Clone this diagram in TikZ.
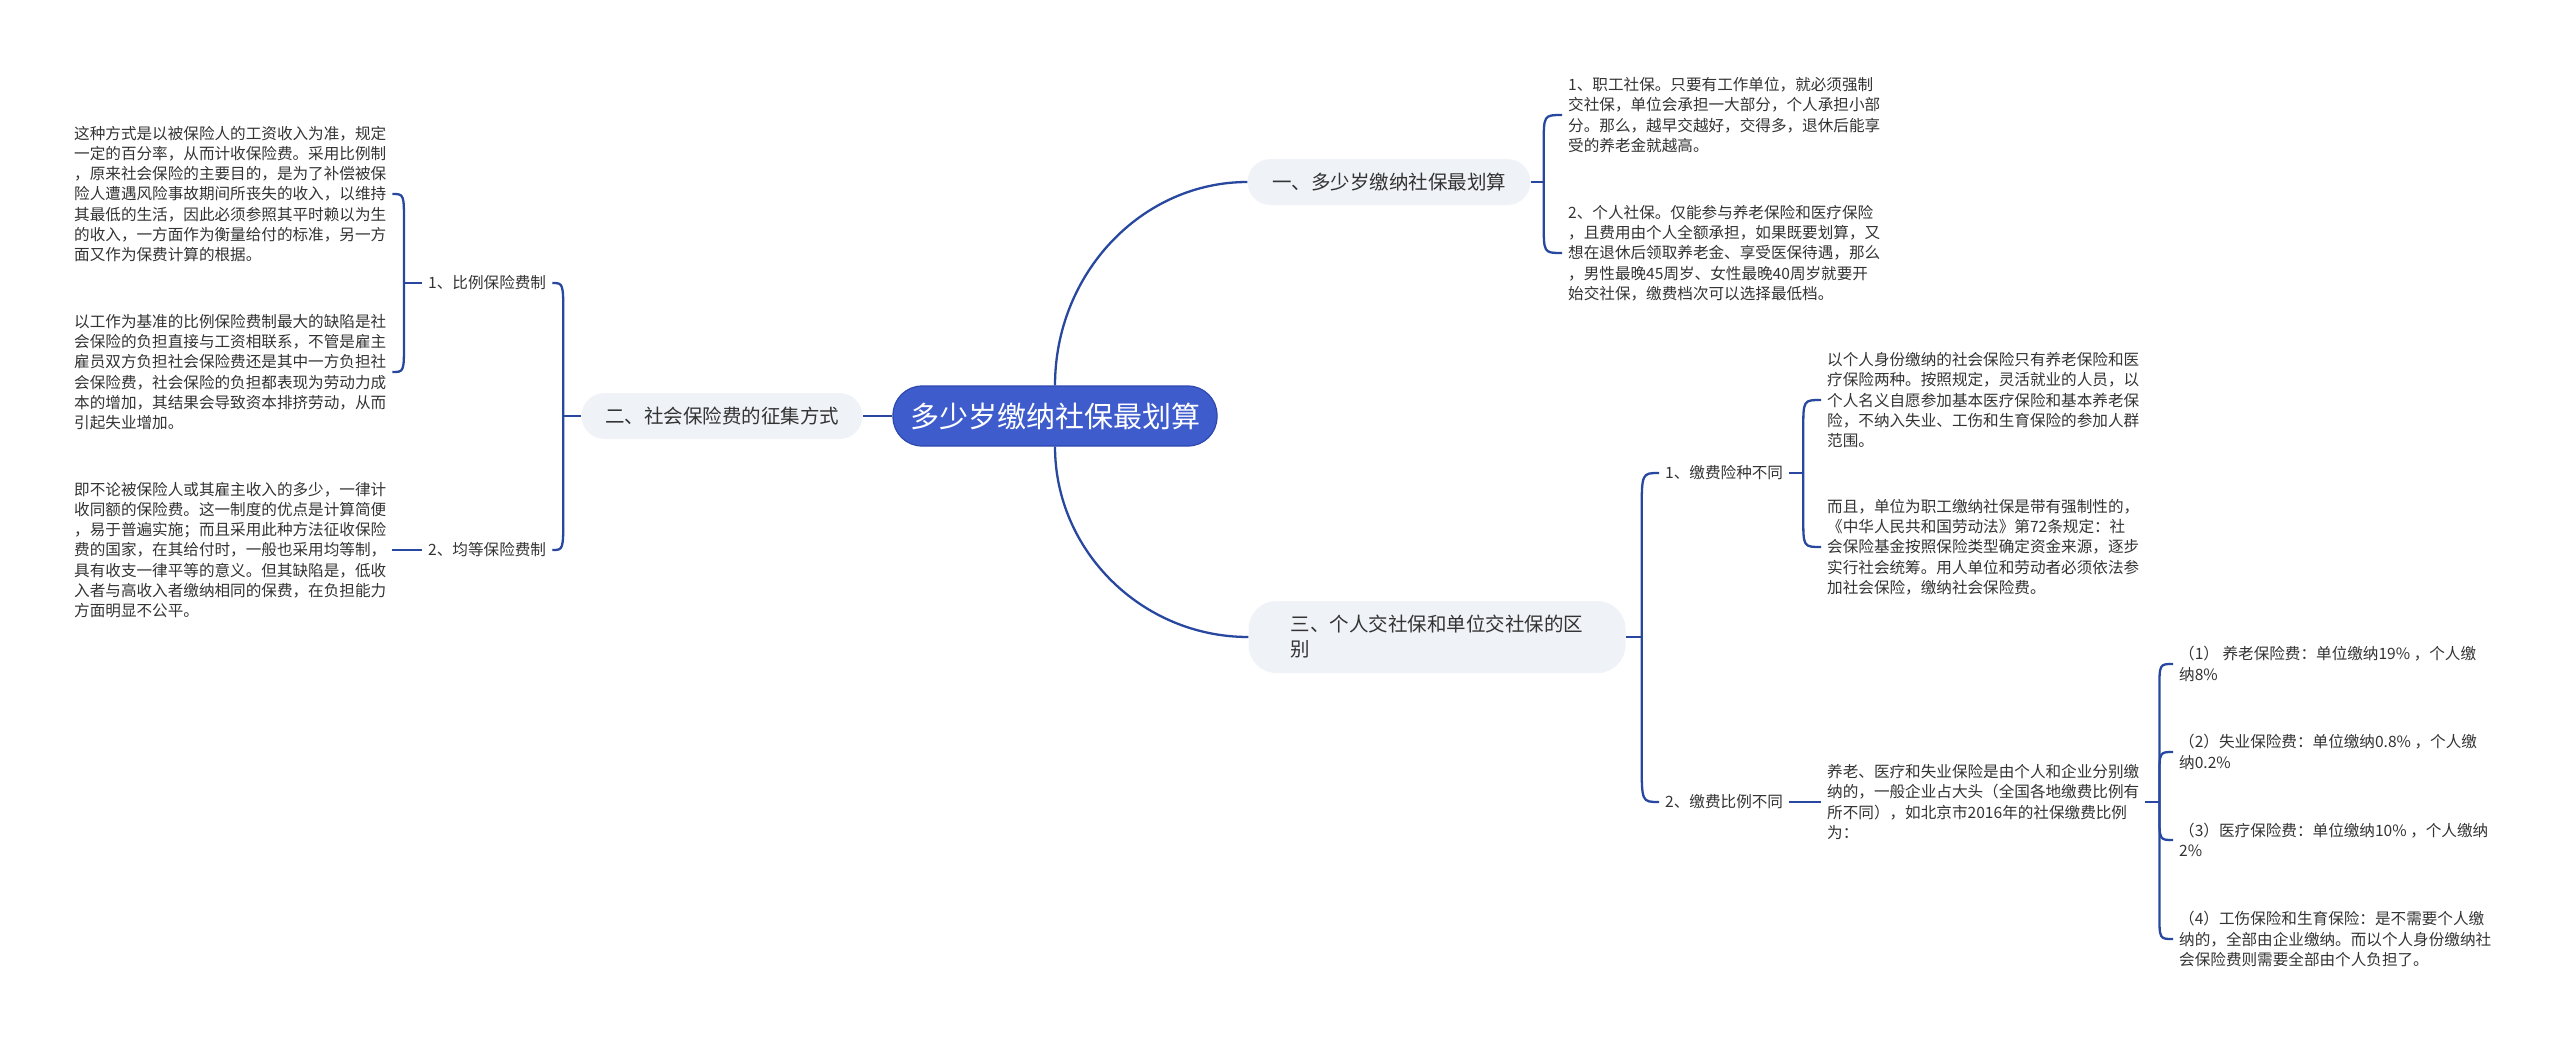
\documentclass[tikz,border=0pt]{standalone}
\usepackage{fontspec}
\setmainfont{Noto Sans CJK SC}
\usetikzlibrary{calc}
\definecolor{linec}{RGB}{40,72,160}
\definecolor{rootc}{RGB}{62,92,204}
\definecolor{rootb}{RGB}{45,72,175}
\definecolor{lonefill}{RGB}{239,242,246}
\definecolor{txt}{RGB}{51,51,51}
\newcommand\curlto[4]{\draw[conn] (#1) -- ($(#1 |- #2.#3)+(0,#4)$) .. controls (#1 |- #2.#3) .. (#2.#3);}
\begin{document}
\begin{tikzpicture}[x=1pt,y=-1pt,
  conn/.style={draw=linec,line width=2.3pt},
  leaf/.style={font=\fontsize{15.6}{20.3}\selectfont,text=txt,align=left,inner xsep=6pt,inner ysep=3pt,anchor=west},
  lvltwo/.style={font=\fontsize{15.6}{20.3}\selectfont,text=txt,inner xsep=6pt,inner ysep=3pt,anchor=west},
  lvlone/.style={fill=lonefill,rounded corners=23pt,font=\fontsize{19.5}{25}\selectfont,text=txt,minimum height=46pt,inner xsep=10pt},
  rootbox/.style={fill=rootc,draw=rootb,line width=1.2pt,rounded corners=29pt,font=\fontsize{29}{34}\selectfont,text=white,minimum width=324pt,minimum height=60pt}
]
\useasboundingbox (0,0) rectangle (2560,1042);

% root and level one
\node[rootbox] (root) at (1055,416) {多少岁缴纳社保最划算};
\node[lvlone,minimum width=283pt] (n1) at (1389,182) {一、多少岁缴纳社保最划算};
\node[lvlone,minimum width=281pt] (n2) at (722,416) {二、社会保险费的征集方式};
\node[lvlone,minimum width=377pt,minimum height=72pt,rounded corners=28pt,align=left] (n3) at (1437,637) {三、个人交社保和单位交社保的区\\别};

\draw[conn] (root.north) .. controls (1055,273) and (1142,182) .. (n1.west);
\draw[conn] (root.south) .. controls (1055,551) and (1142,637) .. (n3.west);
\draw[conn] (root.west) -- (n2.east);

% branch one
\node[leaf] (r1) at (1562,115) {1、职工社保。只要有工作单位，就必须强制\\交社保，单位会承担一大部分，个人承担小部\\分。那么，越早交越好，交得多，退休后能享\\受的养老金就越高。};
\node[leaf] (r2) at (1562,253) {2、个人社保。仅能参与养老保险和医疗保险\\，且费用由个人全额承担，如果既要划算，又\\想在退休后领取养老金、享受医保待遇，那么\\，男性最晚45周岁、女性最晚40周岁就要开\\始交社保，缴费档次可以选择最低档。};
\draw[conn] (n1.east) -- ++(13,0) coordinate (s1);
\curlto{s1}{r1}{west}{30}
\curlto{s1}{r2}{west}{-30}

% branch two
\node[lvltwo] (p1) at (422,283) {1、比例保险费制};
\node[lvltwo] (p2) at (422,550) {2、均等保险费制};
\draw[conn] (n2.west) -- ++(-18,0) coordinate (s2);
\curlto{s2}{p1}{east}{34}
\curlto{s2}{p2}{east}{-34}

\node[leaf] (l1) at (68,194) {这种方式是以被保险人的工资收入为准，规定\\一定的百分率，从而计收保险费。采用比例制\\，原来社会保险的主要目的，是为了补偿被保\\险人遭遇风险事故期间所丧失的收入，以维持\\其最低的生活，因此必须参照其平时赖以为生\\的收入，一方面作为衡量给付的标准，另一方\\面又作为保费计算的根据。};
\node[leaf] (l2) at (68,372) {以工作为基准的比例保险费制最大的缺陷是社\\会保险的负担直接与工资相联系，不管是雇主\\雇员双方负担社会保险费还是其中一方负担社\\会保险费，社会保险的负担都表现为劳动力成\\本的增加，其结果会导致资本排挤劳动，从而\\引起失业增加。};
\node[leaf] (l3) at (68,550) {即不论被保险人或其雇主收入的多少，一律计\\收同额的保险费。这一制度的优点是计算简便\\，易于普遍实施；而且采用此种方法征收保险\\费的国家，在其给付时，一般也采用均等制，\\具有收支一律平等的意义。但其缺陷是，低收\\入者与高收入者缴纳相同的保费，在负担能力\\方面明显不公平。};
\draw[conn] (p1.west) -- ++(-18,0) coordinate (s3);
\curlto{s3}{l1}{east}{30}
\curlto{s3}{l2}{east}{-30}
\draw[conn] (p2.west) -- (p2.west -| l3.east);

% branch three
\node[lvltwo] (q1) at (1659,473) {1、缴费险种不同};
\node[lvltwo] (q2) at (1659,802) {2、缴费比例不同};
\draw[conn] (n3.east) -- ++(16,0) coordinate (s4);
\curlto{s4}{q1}{west}{40}
\curlto{s4}{q2}{west}{-40}

\node[leaf] (a1) at (1821,400) {以个人身份缴纳的社会保险只有养老保险和医\\疗保险两种。按照规定，灵活就业的人员，以\\个人名义自愿参加基本医疗保险和基本养老保\\险，不纳入失业、工伤和生育保险的参加人群\\范围。};
\node[leaf] (a2) at (1821,547) {而且，单位为职工缴纳社保是带有强制性的，\\《中华人民共和国劳动法》第72条规定：社\\会保险基金按照保险类型确定资金来源，逐步\\实行社会统筹。用人单位和劳动者必须依法参\\加社会保险，缴纳社会保险费。};
\draw[conn] (q1.east) -- ++(14,0) coordinate (s5);
\curlto{s5}{a1}{west}{30}
\curlto{s5}{a2}{west}{-30}

\node[leaf] (b) at (1821,802) {养老、医疗和失业保险是由个人和企业分别缴\\纳的，一般企业占大头（全国各地缴费比例有\\所不同），如北京市2016年的社保缴费比例\\为：};
\draw[conn] (q2.east) -- (q2.east -| b.west);

\node[leaf] (c1) at (2173,664) {（1） 养老保险费：单位缴纳19\% ，个人缴\\纳8\%};
\node[leaf] (c2) at (2173,752) {（2）失业保险费：单位缴纳0.8\% ，个人缴\\纳0.2\%};
\node[leaf] (c3) at (2173,840) {（3）医疗保险费：单位缴纳10\% ，个人缴纳\\2\%};
\node[leaf] (c4) at (2173,939) {（4）工伤保险和生育保险：是不需要个人缴\\纳的，全部由企业缴纳。而以个人身份缴纳社\\会保险费则需要全部由个人负担了。};
\draw[conn] (b.east) -- ++(14,0) coordinate (s6);
\curlto{s6}{c1}{west}{26}
\curlto{s6}{c2}{west}{26}
\curlto{s6}{c3}{west}{-26}
\curlto{s6}{c4}{west}{-26}
\end{tikzpicture}
\end{document}
